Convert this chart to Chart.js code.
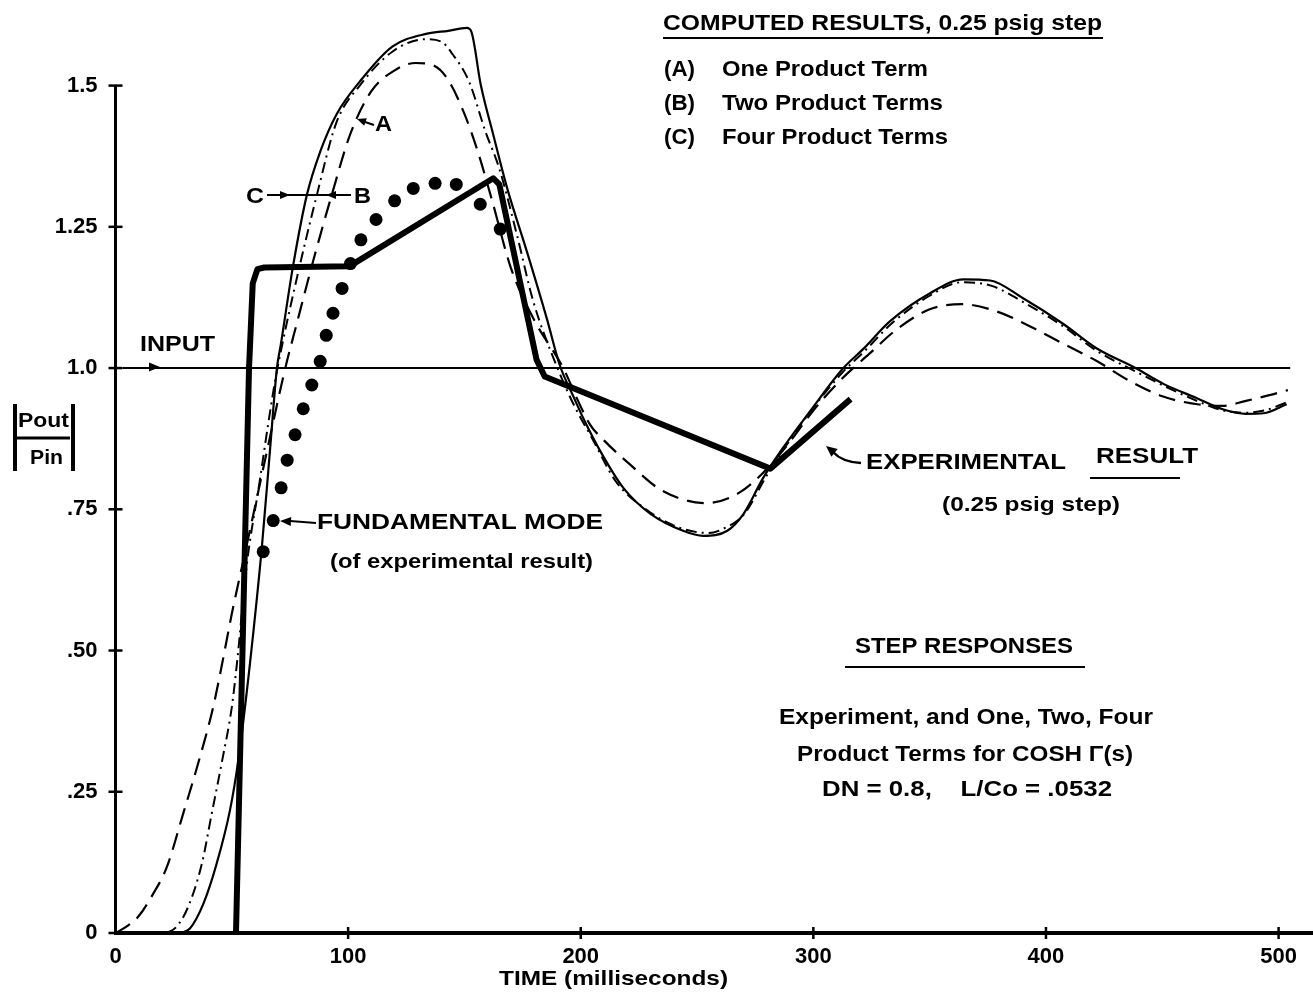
<!DOCTYPE html>
<html>
<head>
<meta charset="utf-8">
<title>Step responses</title>
<script src="https://cdn.jsdelivr.net/npm/chart.js@4.4.1/dist/chart.umd.min.js"></script>
<style>
  html, body { margin: 0; padding: 0; background: #fff; }
  canvas { display: block; }
</style>
</head>
<body>
<canvas id="chart" width="1313" height="1003"></canvas>
<script>
// ─── Dados ────────────────────────────────────────────

const xTicks = [0, 100, 200, 300, 400, 500];
const yTicks = [0, 0.25, 0.5, 0.75, 1.0, 1.25, 1.5];
const yTickLabels = ['0', '.25', '.50', '.75', '1.0', '1.25', '1.5'];

// (A) one product term - dashed
const oneTermT = [0, 5, 10, 16, 22, 29, 36, 42, 46, 50, 55, 60, 66, 73, 78, 85, 93, 101, 110, 120, 129, 137, 143, 150, 156, 162, 170, 180, 192.5, 198.5, 204, 210, 221, 235, 254, 268, 278, 290, 300, 312, 324, 336, 350, 364, 379, 393, 407, 422, 436, 450, 465, 476, 486, 496, 504];
const oneTermV = [0, 0.012, 0.03, 0.068, 0.116, 0.21, 0.307, 0.40, 0.48, 0.565, 0.66, 0.755, 0.87, 1.0, 1.08, 1.19, 1.307, 1.415, 1.49, 1.527, 1.54, 1.535, 1.51, 1.45, 1.38, 1.295, 1.177, 1.085, 1.0, 0.945, 0.90, 0.872, 0.83, 0.783, 0.761, 0.779, 0.813, 0.87, 0.925, 0.98, 1.025, 1.069, 1.104, 1.113, 1.10, 1.074, 1.044, 1.012, 0.977, 0.95, 0.936, 0.933, 0.942, 0.952, 0.961];

// (B) two product terms - dash-dot
const twoTermsT = [22, 26, 31.2, 37.2, 41.4, 45.7, 50, 52.2, 56.5, 62, 65.6, 68.6, 72, 78, 82, 86.6, 95, 105, 119, 133, 140, 145, 152, 159, 165, 172.5, 179.6, 190, 197, 205, 215, 228, 242, 255, 262, 270, 280, 290, 300, 312, 322, 334, 350, 364, 377, 391, 407, 422, 438, 452, 466, 476, 486, 494, 504];
const twoTermsV = [0, 0.01, 0.046, 0.124, 0.212, 0.302, 0.40, 0.477, 0.654, 0.80, 0.90, 0.977, 1.048, 1.16, 1.23, 1.307, 1.435, 1.50, 1.56, 1.582, 1.578, 1.555, 1.507, 1.419, 1.353, 1.237, 1.118, 1.0, 0.935, 0.875, 0.80, 0.75, 0.718, 0.708, 0.717, 0.74, 0.81, 0.873, 0.93, 0.99, 1.03, 1.08, 1.128, 1.152, 1.145, 1.115, 1.075, 1.03, 0.995, 0.966, 0.94, 0.925, 0.921, 0.925, 0.94];

// (C) four product terms - solid
const fourTermsT = [28, 32, 37.8, 43.5, 49.2, 52.8, 57.8, 62.9, 66.5, 69.4, 71, 76.3, 82.3, 88, 95, 105, 119, 134, 143, 151, 153, 157, 162.4, 168.4, 176.8, 185.4, 191, 196.8, 201, 208.4, 218.3, 230, 244, 252.7, 263, 270, 278.5, 287, 298.7, 312.9, 321.5, 333, 350, 364.5, 376, 390, 407.5, 421.7, 438.5, 450.5, 464.7, 476, 486, 493.5, 503.5];
const fourTermsV = [0, 0.008, 0.052, 0.123, 0.217, 0.306, 0.477, 0.682, 0.859, 1.0, 1.04, 1.18, 1.307, 1.383, 1.449, 1.507, 1.569, 1.592, 1.597, 1.602, 1.595, 1.502, 1.413, 1.318, 1.207, 1.088, 1.005, 0.95, 0.912, 0.853, 0.788, 0.742, 0.712, 0.703, 0.712, 0.742, 0.806, 0.859, 0.924, 1.0, 1.034, 1.083, 1.132, 1.157, 1.155, 1.124, 1.078, 1.035, 1.0, 0.972, 0.947, 0.927, 0.919, 0.920, 0.936];

// experimental result - thick line
const expT = [51.8, 57.4, 59, 61, 64, 100.5, 162.4, 165, 181, 184.5, 281.5, 316];
const expV = [0, 1.0, 1.15, 1.175, 1.178, 1.18, 1.336, 1.325, 1.015, 0.985, 0.822, 0.945];

// fundamental mode (of experimental result) - dots
const fundT = [63.5, 67.8, 71.2, 73.8, 77.2, 80.7, 84.4, 88, 90.6, 93.5, 97.4, 101, 105.5, 112, 120, 128, 137.4, 146.5, 156.8, 165.4];
const fundV = [0.675, 0.73, 0.788, 0.837, 0.882, 0.928, 0.97, 1.012, 1.058, 1.097, 1.141, 1.185, 1.227, 1.263, 1.296, 1.318, 1.327, 1.325, 1.29, 1.246];

// input step
const inputT = [3, 505];
const inputV = [1, 1];

// ─── Helpers ─────────────────────────────────────────

const FONT = '"Liberation Sans", Arial, sans-serif';

function pts(ts, vs) {
  return ts.map((t, i) => ({ x: t, y: vs[i] }));
}

// texto esticado entre x1 e x2 (imita a fonte condensada do original)
function label(ctx, s, x1, x2, y, size) {
  ctx.save();
  ctx.font = `bold ${size}px ${FONT}`;
  ctx.textBaseline = 'middle';
  ctx.fillStyle = '#000';
  const w = ctx.measureText(s).width;
  ctx.translate(x1, y);
  ctx.scale((x2 - x1) / w, 1);
  ctx.fillText(s, 0, 0);
  ctx.restore();
}

function line(ctx, x1, y1, x2, y2, w) {
  ctx.save();
  ctx.lineWidth = w;
  ctx.strokeStyle = '#000';
  ctx.beginPath();
  ctx.moveTo(x1, y1);
  ctx.lineTo(x2, y2);
  ctx.stroke();
  ctx.restore();
}

function arrowHead(ctx, tipX, tipY, fromX, fromY, len = 10, half = 4) {
  const a = Math.atan2(tipY - fromY, tipX - fromX);
  ctx.save();
  ctx.fillStyle = '#000';
  ctx.beginPath();
  ctx.moveTo(tipX, tipY);
  ctx.lineTo(tipX - len * Math.cos(a) + half * Math.sin(a), tipY - len * Math.sin(a) - half * Math.cos(a));
  ctx.lineTo(tipX - len * Math.cos(a) - half * Math.sin(a), tipY - len * Math.sin(a) + half * Math.cos(a));
  ctx.closePath();
  ctx.fill();
  ctx.restore();
}

// ─── Eixos e anotações ───────────────────────────────

const axesPlugin = {
  id: 'axesPlugin',
  beforeDatasetsDraw(chart) {
    const { ctx, chartArea, scales: { x, y } } = chart;
    // eixo y só vai até 1.5
    line(ctx, chartArea.left, y.getPixelForValue(0), chartArea.left, y.getPixelForValue(1.5), 3);
    yTicks.forEach(v => {
      const py = y.getPixelForValue(v);
      line(ctx, chartArea.left - 7, py, chartArea.left + 7, py, 2.5);
    });
    xTicks.slice(1).forEach(v => {
      const px = x.getPixelForValue(v);
      line(ctx, px, chartArea.bottom - 6, px, chartArea.bottom + 6, 2.5);
    });
    // eixo x vai até a borda da figura
    line(ctx, chartArea.right - 2, chartArea.bottom, chart.width, chartArea.bottom, 4);
  },
  afterDraw(chart) {
    const { ctx } = chart;

    // título do eixo y |Pout / Pin|
    label(ctx, 'Pout', 18, 69, 421, 21);
    line(ctx, 17, 438, 70, 438, 3);
    label(ctx, 'Pin', 30, 63, 458, 21);
    line(ctx, 15, 404, 15, 471, 4);
    line(ctx, 73, 404, 73, 471, 4);

    // título do eixo x
    label(ctx, 'TIME (milliseconds)', 499, 728, 979, 21);

    // legenda
    label(ctx, 'COMPUTED RESULTS, 0.25 psig step', 663, 1102, 24, 22);
    line(ctx, 663, 38, 1103, 38, 2);
    label(ctx, '(A)', 664, 695, 70, 22);
    label(ctx, 'One Product Term', 722, 928, 70, 22);
    label(ctx, '(B)', 664, 695, 104, 22);
    label(ctx, 'Two Product Terms', 722, 943, 104, 22);
    label(ctx, '(C)', 664, 695, 138, 22);
    label(ctx, 'Four Product Terms', 722, 948, 138, 22);

    // INPUT
    label(ctx, 'INPUT', 140, 215, 345, 22);
    arrowHead(ctx, 160, 367, 140, 367, 11, 4.5);

    // marcadores A, B, C
    label(ctx, 'A', 375, 392, 125, 22);
    line(ctx, 374, 125, 362, 121, 2);
    arrowHead(ctx, 357, 119, 374, 125, 9, 4);
    label(ctx, 'C', 246, 264, 197, 22);
    label(ctx, 'B', 354, 371, 197, 22);
    line(ctx, 267, 195, 351, 195, 2);
    arrowHead(ctx, 290, 195, 270, 195, 10, 4);
    arrowHead(ctx, 326, 195, 345, 195, 10, 4);

    // modo fundamental
    label(ctx, 'FUNDAMENTAL MODE', 317, 603, 523, 22);
    label(ctx, '(of experimental result)', 330, 593, 562, 21);
    line(ctx, 316, 523, 290, 521, 2);
    arrowHead(ctx, 280, 521, 316, 523, 11, 4.5);

    // resultado experimental
    label(ctx, 'EXPERIMENTAL', 866, 1066, 463, 22);
    label(ctx, 'RESULT', 1096, 1198, 457, 22);
    line(ctx, 1090, 478, 1180, 478, 2);
    label(ctx, '(0.25 psig step)', 942, 1120, 505, 21);
    ctx.save();
    ctx.lineWidth = 2.5;
    ctx.beginPath();
    ctx.moveTo(861, 463);
    ctx.quadraticCurveTo(842, 462, 833, 452);
    ctx.stroke();
    ctx.restore();
    arrowHead(ctx, 826, 446, 842, 459, 11, 5);

    // bloco de texto
    label(ctx, 'STEP RESPONSES', 855, 1073, 647, 22);
    line(ctx, 845, 667, 1085, 667, 2);
    label(ctx, 'Experiment, and One, Two, Four', 779, 1153, 718, 22);
    label(ctx, 'Product Terms for COSH \u0393(s)', 797, 1133, 755, 22);
    label(ctx, 'DN = 0.8,    L/Co = .0532', 822, 1112, 790, 22);
  }
};

// ─── Gráfico ─────────────────────────────────────────

function renderChart() {
  const canvas = document.getElementById('chart');
  const tickFont = { family: FONT, size: 22, weight: 'bold' };

  new Chart(canvas, {
    type: 'line',
    data: {
      datasets: [
        {
          label: 'Experimental result',
          data: pts(expT, expV),
          borderColor: '#000', borderWidth: 6,
          borderJoinStyle: 'round', borderCapStyle: 'butt',
          tension: 0, pointRadius: 0,
        },
        {
          label: 'Fundamental mode',
          data: pts(fundT, fundV),
          showLine: false,
          pointRadius: 6.5, pointBorderWidth: 0,
          pointBackgroundColor: '#000',
        },
        {
          label: 'Four Product Terms',
          data: pts(fourTermsT, fourTermsV),
          borderColor: '#000', borderWidth: 2.2,
          cubicInterpolationMode: 'monotone', pointRadius: 0,
        },
        {
          label: 'Two Product Terms',
          data: pts(twoTermsT, twoTermsV),
          borderColor: '#000', borderWidth: 2,
          borderDash: [11, 5, 2, 5],
          cubicInterpolationMode: 'monotone', pointRadius: 0,
        },
        {
          label: 'One Product Term',
          data: pts(oneTermT, oneTermV),
          borderColor: '#000', borderWidth: 2.2,
          borderDash: [17, 9],
          cubicInterpolationMode: 'monotone', pointRadius: 0,
        },
        {
          label: 'Input',
          data: pts(inputT, inputV),
          borderColor: '#000', borderWidth: 2,
          tension: 0, pointRadius: 0,
        },
      ],
    },
    options: {
      responsive: false,
      animation: false,
      events: [],
      layout: { padding: { top: 5, right: 0, bottom: 0, left: 0 } },
      plugins: {
        legend: { display: false },
        tooltip: { enabled: false },
      },
      scales: {
        x: {
          type: 'linear',
          min: 0, max: 512,
          afterBuildTicks: s => { s.ticks = xTicks.map(v => ({ value: v })); },
          afterFit: s => { s.height = 70; s.paddingLeft = 0; s.paddingRight = 0; },
          grid: { display: false, drawTicks: false },
          border: { display: true, color: '#000', width: 4 },
          ticks: { color: '#000', font: tickFont, padding: 11, maxRotation: 0, callback: v => String(v) },
        },
        y: {
          type: 'linear',
          min: 0, max: 1.64,
          afterBuildTicks: s => { s.ticks = yTicks.map(v => ({ value: v })); },
          afterFit: s => { s.width = 115.5; s.paddingTop = 0; s.paddingBottom = 0; },
          grid: { display: false, drawTicks: false },
          border: { display: false },
          ticks: { color: '#000', font: tickFont, padding: 18, callback: v => yTickLabels[yTicks.indexOf(v)] },
        },
      },
    },
    plugins: [axesPlugin],
  });
}

document.addEventListener('DOMContentLoaded', renderChart);
</script>
</body>
</html>
